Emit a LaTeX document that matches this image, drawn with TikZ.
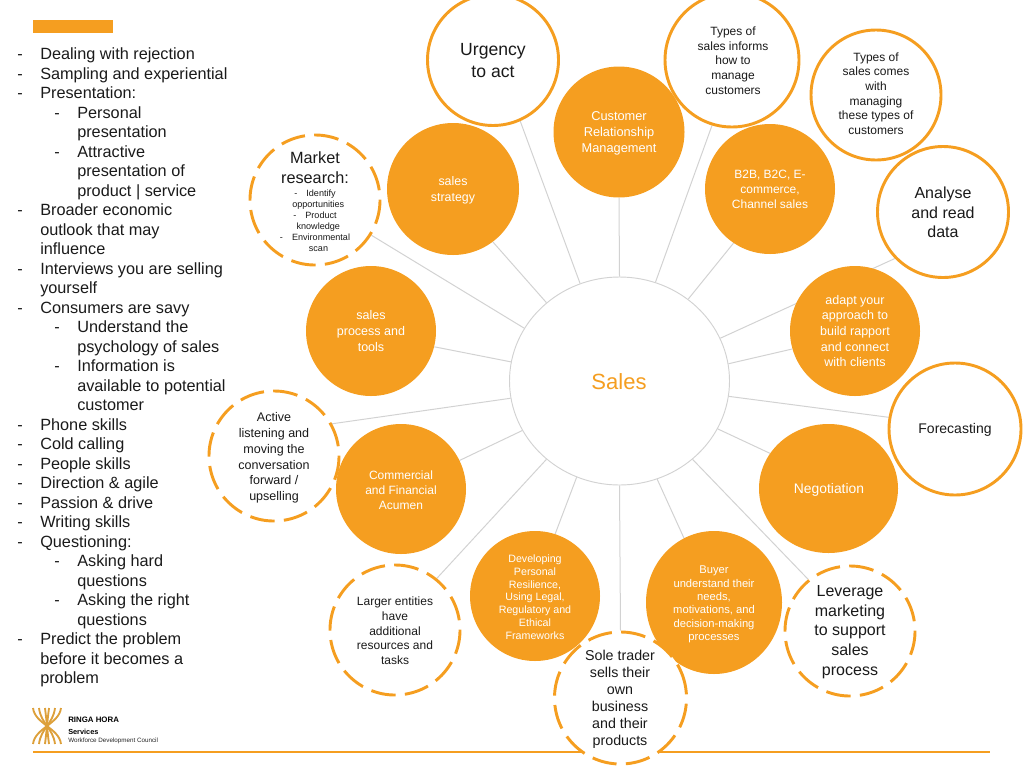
\documentclass[tikz,border=0pt]{standalone}
\usepackage{fontspec}
\setmainfont{Liberation Sans}
\usetikzlibrary{backgrounds,shapes.geometric}
\definecolor{brand}{HTML}{F59E20}
\definecolor{logoc}{HTML}{DDA03A}
\definecolor{spokec}{HTML}{D2D2D2}
\definecolor{inkc}{HTML}{1A1A1A}
\newcommand{\fsz}[2]{\fontsize{#1}{#2}\selectfont}
\tikzset{
 solidc/.style={circle,fill=brand,draw=none,inner sep=0pt,minimum size=#1*0.75pt},
 solide/.style 2 args={ellipse,fill=brand,draw=none,inner sep=0pt,minimum width=#1*0.75pt,minimum height=#2*0.75pt},
 ringc/.style={circle,fill=white,draw=brand,line width=2.2pt,inner sep=0pt,minimum size=#1*0.75pt},
 dashc/.style={circle,fill=white,draw=brand,line width=2.2pt,dash pattern=on 18.5pt off 7pt,rotate=9,inner sep=0pt,minimum size=#1*0.75pt},
 hube/.style 2 args={ellipse,fill=white,draw=spokec,line width=0.7pt,inner sep=0pt,minimum width=#1*0.75pt,minimum height=#2*0.75pt},
 wtxt/.style={text=white,align=center,inner sep=0pt},
 btxt/.style={text=inkc,align=center,inner sep=0pt},
 listl/.style={text=inkc,anchor=base west,inner sep=0pt,font=\fsz{12.2}{14}},
 spoke/.style={draw=spokec,line width=0.75pt},
 logoarc/.style={draw=logoc,line width=1.4pt},
}
\begin{document}
\begin{tikzpicture}[x=0.75pt,y=-0.75pt]
\useasboundingbox (0,0) rectangle (1024,768);
\fill[brand] (33,20) rectangle (113,33);
% left list
\foreach \n/\x/\t in {
 0/40/Dealing with rejection,
 1/40/Sampling and experiential,
 2/40/Presentation:,
 3/77/Personal,
 4/77/presentation,
 5/77/Attractive,
 6/77/presentation of,
 7/77/product | service,
 8/40/Broader economic,
 9/40/outlook that may,
 10/40/influence,
 11/40/Interviews you are selling,
 12/40/yourself,
 13/40/Consumers are savy,
 14/77/Understand the,
 15/77/psychology of sales,
 16/77/Information is,
 17/77/available to potential,
 18/77/customer,
 19/40/Phone skills,
 20/40/Cold calling,
 21/40/People skills,
 22/40/Direction \& agile,
 23/40/Passion \& drive,
 24/40/Writing skills,
 25/40/Questioning:,
 26/77/Asking hard,
 27/77/questions,
 28/77/Asking the right,
 29/77/questions,
 30/40/Predict the problem,
 31/40/before it becomes a,
 32/40/problem}{
 \node[listl] (line\n) at (\x,{59.5+19.5*\n}) {\t};
}
\foreach \n/\x in {0/17,1/17,2/17,3/54,5/54,8/17,11/17,13/17,14/54,16/54,19/17,20/17,21/17,22/17,23/17,24/17,25/17,26/54,28/54,30/17}{
 \node[listl] (dash\n) at (\x,{59.5+19.5*\n}) {-};
}
% hub
\node[hube={220}{208}] (sales) at (619.5,381) {};
\node[text=brand,inner sep=0pt,font=\fsz{16.5}{18}] (salest) at (619,382) {Sales};
% outer circles
\node[ringc=131] (urgency) at (493,60) {};
\node[ringc=134] (informs) at (732,60) {};
\node[ringc=130] (comes) at (876,95) {};
\node[ringc=131] (analyse) at (943,212) {};
\node[solidc=131] (crm) at (619,132) {};
\node[solidc=130] (b2b) at (770,189) {};
\node[solidc=132] (strategy) at (453,189) {};
\node[dashc=130] (market) at (315,200) {};
\node[solidc=130] (process) at (371,331) {};
\node[solidc=130] (adapt) at (855,331) {};
\node[ringc=132] (forecast) at (955,429) {};
\node[dashc=130] (active) at (274,456) {};
\node[solidc=130] (commercial) at (401,489) {};
\node[solide={139}{129}] (negotiation) at (828.5,488.5) {};
\node[solidc=130] (resilience) at (535,596) {};
\node[solide={136}{143}] (buyer) at (714,602.5) {};
\node[dashc=130] (larger) at (395,630) {};
\node[dashc=130] (leverage) at (850,631) {};
\node[dashc=132] (sole) at (620.5,698) {};
% texts
\node[btxt,font=\fsz{13.2}{16.4}] (urgencyt) at (493,60.5) {Urgency\\to act};
\node[btxt,font=\fsz{9}{11}] (informst) at (733,60.5) {Types of\\sales informs\\how to\\manage\\customers};
\node[btxt,font=\fsz{9}{11}] (comest) at (876,93.5) {Types of\\sales comes\\with\\managing\\these types of\\customers};
\node[btxt,font=\fsz{12}{14.6}] (analyset) at (943,212.5) {Analyse\\and read\\data};
\node[wtxt,font=\fsz{9.6}{12}] (crmt) at (619,133.5) {Customer\\Relationship\\Management};
\node[wtxt,font=\fsz{9}{11.3}] (b2bt) at (770,189.5) {B2B, B2C, E-\\commerce,\\Channel sales};
\node[wtxt,font=\fsz{9.3}{12}] (strategyt) at (453,190.5) {sales\\strategy};
\node[btxt,font=\fsz{12.2}{15}] (markett) at (315,168) {Market\\research:};
\node[btxt,font=\fsz{6.8}{8.25}] (marketl) at (315,220.5) {-\quad Identify\\\hspace*{4.9pt}opportunities\\-\quad Product\\\hspace*{4.9pt}knowledge\\-\quad Environmental\\\hspace*{5.2pt}scan};
\node[wtxt,font=\fsz{9.4}{11.8}] (processt) at (371,331) {sales\\process and\\tools};
\node[wtxt,font=\fsz{9.4}{11.8}] (adaptt) at (855,331) {adapt your\\approach to\\build rapport\\and connect\\with clients};
\node[btxt,font=\fsz{10.5}{12.5}] (forecastt) at (955,430) {Forecasting};
\node[btxt,font=\fsz{9.4}{11.85}] (activet) at (274,458) {Active\\listening and\\moving the\\conversation\\forward /\\upselling};
\node[wtxt,font=\fsz{9}{11.25}] (commercialt) at (401,490) {Commercial\\and Financial\\Acumen};
\node[wtxt,font=\fsz{10.4}{12.5}] (negotiationt) at (829,490) {Negotiation};
\node[wtxt,font=\fsz{8}{9.6}] (resiliencet) at (535,597) {Developing\\Personal\\Resilience,\\Using Legal,\\Regulatory and\\Ethical\\Frameworks};
\node[wtxt,font=\fsz{8.4}{10}] (buyert) at (714,604.5) {Buyer\\understand their\\needs,\\motivations, and\\decision-making\\processes};
\node[btxt,font=\fsz{9}{11}] (largert) at (395,631) {Larger entities\\have\\additional\\resources and\\tasks};
\node[btxt,font=\fsz{12}{14.85}] (leveraget) at (850,632) {Leverage\\marketing\\to support\\sales\\process};
\node[btxt,font=\fsz{10.7}{12.8}] (solet) at (620,699) {Sole trader\\sells their\\own\\business\\and their\\products};
% logo
\foreach \d in {0,6,12}{
 \draw[logoarc] ({33+\d},708) .. controls ({35+\d},724) and ({59-\d},728) .. ({61-\d},744);
 \draw[logoarc] ({61-\d},708) .. controls ({59-\d},724) and ({35+\d},728) .. ({33+\d},744);
}
\node[anchor=west,inner sep=0pt,text=black,font=\bfseries\fsz{5.9}{8}] (logo1) at (68,720) {RINGA HORA};
\node[anchor=west,inner sep=0pt,text=black,font=\bfseries\fsz{5.5}{6}] (logo2) at (68,731.5) {Services};
\node[anchor=west,inner sep=0pt,text=black!85,font=\fsz{4.7}{5}] (logo3) at (68,741) {Workforce Development Council};
\begin{scope}[on background layer]
 \coordinate (footl) at (33,752);
 \coordinate (footr) at (990,752);
 \draw[brand,line width=1.6pt] (footl) -- (footr);
 \foreach \a/\t/\b in {112.4/urgency/-66.5, 90/crm/-90, 70.3/informs/-107.9, 133/strategy/-53.5, 50.1/b2b/236.8,
   151/market/-41.3, 170.6/process/-14.4, 189.3/active/20.5, 207.1/commercial/26.6, 227.5/larger/42.6,
   246.8/resilience/72.4, -90/sole/81, -69.1/buyer/115.7, -47.5/leverage/120.5, -26.9/negotiation/149.7,
   9.9/adapt/196.8, 23.4/analyse/224.4, -8.9/forecast/170.5}{
  \draw[spoke] (sales.\a) -- (\t.\b);
 }
\end{scope}
\end{tikzpicture}
\end{document}
